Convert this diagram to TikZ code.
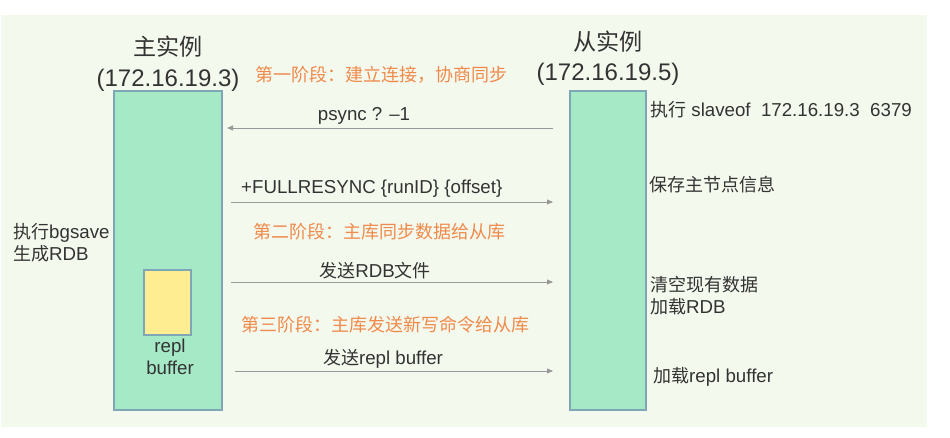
\documentclass[tikz,border=0pt]{standalone}
\usepackage{fontspec}
\setmainfont{Liberation Sans}
\newfontfamily\cjk[Scale=0.963]{Noto Sans CJK SC}
\usetikzlibrary{arrows.meta}
\definecolor{bgc}{HTML}{F4F9EE}
\definecolor{boxc}{HTML}{A5E9C7}
\definecolor{edgec}{HTML}{7FA6B5}
\definecolor{yelc}{HTML}{FEEE91}
\definecolor{orc}{HTML}{F08A4B}
\definecolor{txc}{HTML}{333333}
\definecolor{arc}{HTML}{999999}
\tikzset{
  inst/.style={draw=edgec, line width=1.2pt, fill=boxc},
  buf/.style={draw=edgec, line width=1.2pt, fill=yelc},
  lbl/.style={inner sep=0pt, text=txc, font=\fontsize{18.7}{22}\selectfont},
  ttl/.style={inner sep=0pt, text=txc, font=\fontsize{24}{28}\selectfont},
  phase/.style={inner sep=0pt, text=orc, font=\fontsize{18.7}{22}\selectfont\cjk},
  msg/.style={draw=arc, line width=0.8pt, -{Triangle[length=6pt,width=5pt]}},
}
\begin{document}
\begin{tikzpicture}[x=1pt,y=-1pt]
\useasboundingbox (0,0) rectangle (950,438);
\fill[bgc] (1,15) rectangle (927,427);
% boxes
\draw[inst] (114,91) rectangle (222,410);
\node[inner sep=0pt, minimum width=0pt] (master) at (168,250.5) {};
\draw[inst] (570,91) rectangle (646,410);
\node[inner sep=0pt] (slave) at (608,250.5) {};
\draw[buf] (144,270) rectangle (191,335);
\node[inner sep=0pt] (repl) at (167.5,302.5) {};
% titles
\node[ttl, anchor=base] (mt) at (168,56) {\cjk 主实例};
\node[ttl, anchor=base] (mip) at (168,87) {(172.16.19.3)};
\node[ttl, anchor=base] (st) at (608,51) {\cjk 从实例};
\node[ttl, anchor=base] (sip) at (608,81) {(172.16.19.5)};
% phases
\node[phase, anchor=base west] (p1) at (255,82) {第一阶段：建立连接，协商同步};
\node[phase, anchor=base west] (p2) at (253,239) {第二阶段：主库同步数据给从库};
\node[phase, anchor=base west] (p3) at (241,331) {第三阶段：主库发送新写命令给从库};
% arrows
\coordinate (a1s) at (553,128); \coordinate (a1e) at (227,128);
\coordinate (a2s) at (231,202); \coordinate (a2e) at (553,202);
\coordinate (a3s) at (231,282); \coordinate (a3e) at (553,282);
\coordinate (a4s) at (235,371); \coordinate (a4e) at (553,371);
\draw[msg] (a1s) -- (a1e);
\draw[msg] (a2s) -- (a2e);
\draw[msg] (a3s) -- (a3e);
\draw[msg] (a4s) -- (a4e);
\node[lbl, anchor=base] (m1) at (364,121) {psync ? –1};
\node[lbl, anchor=base west] (m2) at (241,194) {+FULLRESYNC \{runID\} \{offset\}};
\node[lbl, anchor=base] (m3) at (375,277) {{\cjk 发送}RDB{\cjk 文件}};
\node[lbl, anchor=base] (m4) at (383,364) {{\cjk 发送}repl buffer};
% buffer label
\node[lbl, anchor=base] (r1) at (170,352) {repl};
\node[lbl, anchor=base] (r2) at (170,374) {buffer};
% left notes
\node[lbl, anchor=base west] (l1) at (13,239) {{\cjk 执行}bgsave};
\node[lbl, anchor=base west] (l2) at (13,261) {{\cjk 生成}RDB};
% right notes
\node[lbl, anchor=base west] (s1) at (650,117) {{\cjk 执行} slaveof\ \ 172.16.19.3\ \ 6379};
\node[lbl, anchor=base west] (s2) at (649,192) {\cjk 保存主节点信息};
\node[lbl, anchor=base west] (s3) at (650,291) {\cjk 清空现有数据};
\node[lbl, anchor=base west] (s4) at (650,313) {{\cjk 加载}RDB};
\node[lbl, anchor=base west] (s5) at (653,382) {{\cjk 加载}repl buffer};
\end{tikzpicture}
\end{document}
